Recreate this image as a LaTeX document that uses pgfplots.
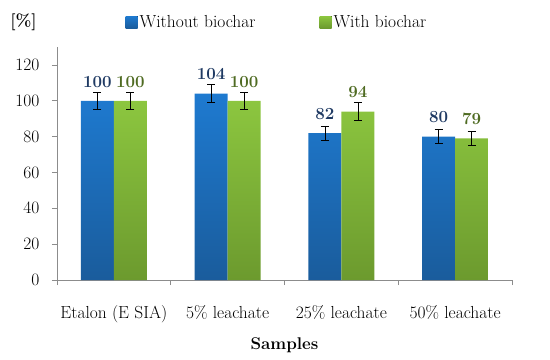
\documentclass[border=0pt]{standalone}
\usepackage{fontspec}
\setmainfont{Latin Modern Roman}
\usepackage{pgfplots}
\pgfplotsset{compat=1.18}
\definecolor{bluetop}{HTML}{1E7AD0}
\definecolor{bluebot}{HTML}{1A5C9C}
\definecolor{greentop}{HTML}{8CC63F}
\definecolor{greenbot}{HTML}{6C9A2E}
\definecolor{bluelab}{HTML}{1F3A63}
\definecolor{greenlab}{HTML}{4F6B22}
\definecolor{axgray}{HTML}{8C8C8C}
\begin{document}
\begin{tikzpicture}
\begin{axis}[name=ax,
 scale only axis, width=455bp, height=233bp,
 xmin=-0.5, xmax=3.5, ymin=0, ymax=130,
 ybar=0pt, bar width=33bp,
 /pgf/number format/assume math mode=true,
 axis x line*=bottom, axis y line*=left,
 axis line style={-, draw=axgray, line width=0.8pt},
 xtick={-0.5,0.5,1.5,2.5,3.5}, x tick label as interval,
 xticklabels={Etalon (E SIA),5\% leachate,25\% leachate,50\% leachate},
 ytick={0,20,...,120},
 tick align=outside, major tick length=5bp,
 tick style={draw=axgray, line width=0.8pt},
 ticklabel style={font=\fontsize{17.5}{19}\selectfont},
 xticklabel style={yshift=-17bp},
 yticklabel style={xshift=-9bp},
 xlabel={Samples},
 xlabel style={font=\fontsize{17}{19}\selectfont\bfseries, yshift=-8bp},
 legend columns=2,
 legend style={draw=none, fill=none, at={(0.4835,1.107)}, anchor=center,
   font=\fontsize{17.5}{19}\selectfont, /tikz/every even column/.append style={column sep=62bp}},
 legend image code/.code={\fill[#1] (0bp,-6bp) rectangle (12bp,6bp);},
 nodes near coords,
 every node near coord/.append style={font=\fontsize{17}{19}\selectfont\bfseries, anchor=south, yshift=10bp},
 error bars/y dir=both, error bars/y explicit,
 error bars/error bar style={black, line width=0.6pt},
 error bars/error mark options={rotate=90, mark size=4bp, black, line width=0.6pt},
]
\addplot[draw=none, top color=bluetop, bottom color=bluebot,
  every node near coord/.append style={text=bluelab}]
  table[x=x, y=y, y error=e] {
x y e
0 100 5
1 104 5
2 82 4
3 80 4
};
\addlegendentry{Without biochar}
\addplot[draw=none, top color=greentop, bottom color=greenbot,
  every node near coord/.append style={text=greenlab}]
  table[x=x, y=y, y error=e] {
x y e
0 100 5
1 100 5
2 94 5
3 79 4
};
\addlegendentry{With biochar}
\end{axis}
\node[font=\fontsize{17}{19}\selectfont\bfseries] at ([shift={(-33.5bp,25bp)}]ax.north west) {[\%]};
\pgfresetboundingbox
\path ([shift={(-57bp,-80bp)}]ax.south west) rectangle ([shift={(38bp,47bp)}]ax.north east);
\end{tikzpicture}
\end{document}
